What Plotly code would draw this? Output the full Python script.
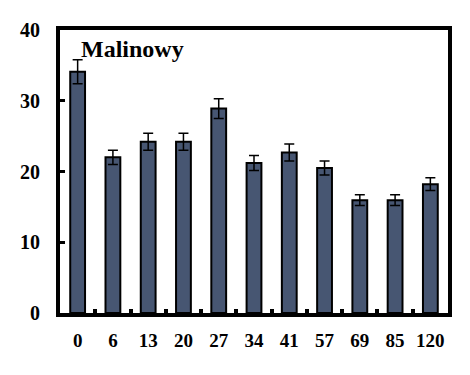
import plotly.graph_objects as go

categories = ["0", "6", "13", "20", "27", "34", "41", "57", "69", "85", "120"]
values = [34.1, 22.0, 24.2, 24.2, 28.9, 21.2, 22.7, 20.5, 15.95, 15.95, 18.2]
errors = [1.7, 1.0, 1.2, 1.2, 1.4, 1.05, 1.2, 1.0, 0.75, 0.75, 0.9]
y_ticks = [0, 10, 20, 30, 40]
title_text = "Malinowy"

fig = go.Figure()
fig.add_trace(go.Bar(
    x=categories, y=values,
    marker=dict(color="#475672", line=dict(color="black", width=2)),
    width=0.42,
    error_y=dict(type="data", array=errors, visible=True, color="black",
                 thickness=1.5, width=5),
))

font = dict(family="Liberation Serif", size=19, color="black")
fig.update_layout(
    width=470, height=375,
    margin=dict(l=52, r=30, t=22, b=70, autoexpand=False),
    plot_bgcolor="white", paper_bgcolor="white",
    showlegend=False,
    font=font,
    annotations=[dict(
        text="<b>" + title_text + "</b>", x=0.05, y=0.986, xref="paper", yref="paper",
        xanchor="left", yanchor="top", showarrow=False,
        font=dict(family="Liberation Serif", size=24, color="black"),
    )],
)
fig.update_xaxes(
    type="category", categoryorder="array", categoryarray=categories,
    showline=True, linewidth=4, linecolor="black", mirror=True,
    ticks="inside", tickson="boundaries", ticklen=4, tickwidth=4, tickcolor="black",
    showgrid=False, ticklabelstandoff=7, tickangle=0,
    tickfont=dict(family="Liberation Serif", size=19, color="black", weight="bold"),
)
fig.update_yaxes(
    range=[0, 40], tickvals=y_ticks,
    showline=True, linewidth=4, linecolor="black", mirror=True,
    ticks="inside", ticklen=5, tickwidth=3, tickcolor="black",
    showgrid=False, zeroline=False, ticklabelstandoff=12,
    tickfont=dict(family="Liberation Serif", size=20, color="black", weight="bold"),
)

fig.write_html("out.html")
